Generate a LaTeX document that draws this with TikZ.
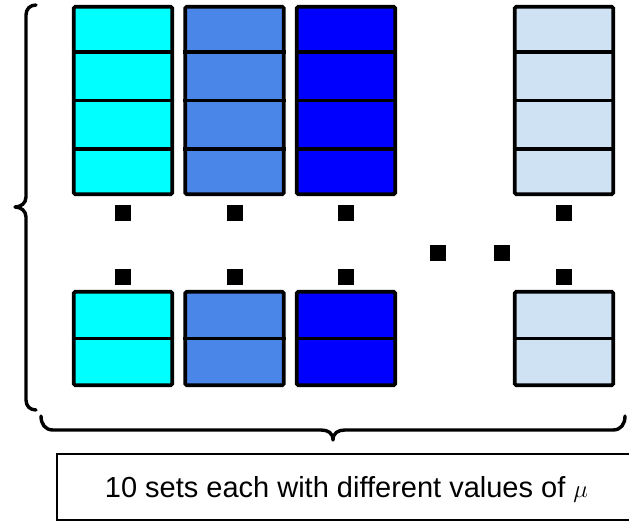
\documentclass[tikz,border=0pt]{standalone}
\usepackage{fontspec}
\setmainfont{Liberation Sans}
\definecolor{cA}{RGB}{0,255,255}
\definecolor{cB}{RGB}{74,134,232}
\definecolor{cC}{RGB}{0,0,255}
\definecolor{cD}{RGB}{207,226,243}
\tikzset{
  colbox/.style={draw=black, line width=3.6pt, rounded corners=1.5pt, inner sep=0pt, minimum width=98.5pt},
  tallbox/.style={colbox, minimum height=187.5pt},
  shortbox/.style={colbox, minimum height=93.5pt},
  divider/.style={draw=black, line width=3.6pt},
  dotsq/.style={fill=black, inner sep=0pt, minimum size=16pt},
  brace/.style={draw=black, line width=3.4pt, line cap=round, line join=round},
  label/.style={draw=black, line width=2.8pt, inner sep=0pt, minimum width=584pt, minimum height=66pt},
}
\begin{document}
\begin{tikzpicture}[x=1pt,y=-1pt]
\useasboundingbox (0,0) rectangle (629,524);
% tall columns
\foreach \n/\x/\c in {t1/123/cA, t2/234.5/cB, t3/346/cC, t4/564/cD}{
  \node[tallbox, fill=\c] (\n) at (\x,100.5) {};
  \draw[divider] ([yshift=-47pt]\n.north west) -- ([yshift=-47pt]\n.north east);
  \draw[divider] (\n.west) -- (\n.east);
  \draw[divider] ([yshift=47pt]\n.south west) -- ([yshift=47pt]\n.south east);
}
% short columns
\foreach \n/\x/\c in {s1/123/cA, s2/234.5/cB, s3/346/cC, s4/564/cD}{
  \node[shortbox, fill=\c] (\n) at (\x,338.5) {};
  \draw[divider] (\n.west) -- (\n.east);
}
% dots
\foreach \n/\x in {1/123, 2/234.5, 3/346, 4/564}{
  \node[dotsq] (da\n) at (\x,213) {};
  \node[dotsq] (db\n) at (\x,277) {};
}
\node[dotsq] (h1) at (438,253) {};
\node[dotsq] (h2) at (502,253) {};
% left brace
\draw[brace] (36,5) .. controls (30,5) and (26,9) .. (26,15) -- (26,197)
  .. controls (26,203) and (21,207) .. (15,207)
  .. controls (21,207) and (26,211) .. (26,217) -- (26,400)
  .. controls (26,406) and (30,410) .. (36,410);
% bottom brace
\draw[brace] (41,416) .. controls (41,424) and (45,430) .. (53,430) -- (321,430)
  .. controls (328,430) and (333,433) .. (333,440)
  .. controls (333,433) and (338,430) .. (345,430) -- (613,430)
  .. controls (621,430) and (625,424) .. (625,416);
% label box
\node[label] (lbl) at (349,487) {};
\node[font=\fontsize{29}{35}\selectfont, anchor=base, inner sep=0pt] (txt) at (346.5,497) {10 sets each with different values of $\mu$};
\end{tikzpicture}
\end{document}
